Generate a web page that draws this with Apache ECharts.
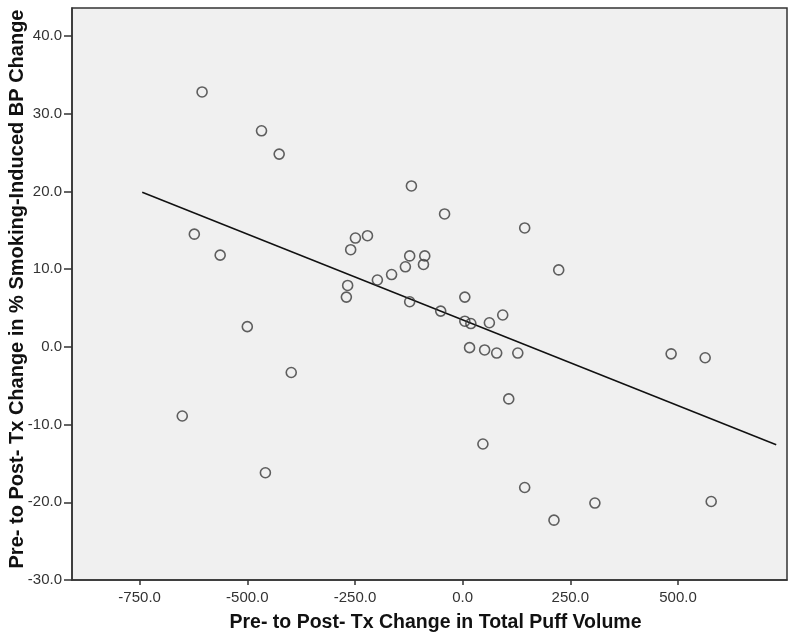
<!DOCTYPE html>
<html>
<head>
<meta charset="utf-8">
<script src="https://cdn.jsdelivr.net/npm/echarts@6/dist/echarts.min.js"></script>
<style>
html,body{margin:0;padding:0;background:#fff;}
#chart{width:800px;height:642px;}
</style>
</head>
<body>
<div id="chart"></div>
<script>
// Data
const puffVolumeChange = [
  -605, -467, -426, -623, -563, -500, -651, -398, -458,
  -249, -221, -260, -267, -270, -198, -165, -133, -123, -88, -91, -119, -42, -123, -51,
  5, 5, 19, 62, 93, 16, 51, 79, 128, 144, 223, 107, 47, 144, 212, 307, 484, 563, 577
];
const bpChange = [
  32.8, 27.8, 24.8, 14.5, 11.8, 2.6, -8.9, -3.3, -16.2,
  14.0, 14.3, 12.5, 7.9, 6.4, 8.6, 9.3, 10.3, 11.7, 11.7, 10.6, 20.7, 17.1, 5.8, 4.6,
  6.4, 3.3, 3.0, 3.1, 4.1, -0.1, -0.4, -0.8, -0.8, 15.3, 9.9, -6.7, -12.5, -18.1, -22.3, -20.1, -0.9, -1.4, -19.9
];
const fitLineX = [-744, 728];
const fitLineY = [19.9, -12.6];
const xTicks = [-750, -500, -250, 0, 250, 500];
const yTicks = [-30, -20, -10, 0, 10, 20, 30, 40];

const xTitle = 'Pre- to Post- Tx Change in Total Puff Volume';
const yTitle = 'Pre- to Post- Tx Change in % Smoking-Induced BP Change';

const points = puffVolumeChange.map((x, i) => [x, bpChange[i]]);
const fitPoints = fitLineX.map((x, i) => [x, fitLineY[i]]);

const chart = echarts.init(document.getElementById('chart'), null, {renderer: 'canvas'});
const fontFamily = '"Liberation Sans", Arial, sans-serif';
chart.setOption({
  animation: false,
  backgroundColor: '#ffffff',
  grid: {
    left: 72, top: 8, right: 13, bottom: 62,
    outerBoundsMode: 'none', containLabel: false,
    show: true, backgroundColor: '#f0f0f0', borderColor: '#333333', borderWidth: 1.5
  },
  xAxis: {
    type: 'value', min: -907, max: 753,
    name: xTitle, nameLocation: 'middle', nameGap: 33, nameMoveOverlap: false,
    nameTextStyle: {fontFamily, fontWeight: 'bold', fontSize: 19.5, color: '#111', padding: [0, 0, 0, 12]},
    splitLine: {show: false},
    axisLine: {show: true, onZero: false, lineStyle: {color: '#333', width: 1.5}},
    axisTick: {show: true, length: 5, customValues: xTicks, lineStyle: {color: '#333', width: 1.5}},
    axisLabel: {customValues: xTicks, margin: 10, fontFamily, fontSize: 15, color: '#333',
      formatter: v => v.toFixed(1)}
  },
  yAxis: {
    type: 'value', min: -30, max: 43.6,
    name: yTitle, nameLocation: 'middle', nameGap: 45, nameRotate: 90, nameMoveOverlap: false,
    nameTextStyle: {fontFamily, fontWeight: 'bold', fontSize: 20, color: '#111', padding: [0, 0, 0, 10]},
    splitLine: {show: false},
    axisLine: {show: true, onZero: false, lineStyle: {color: '#333', width: 1.5}},
    axisTick: {show: true, length: 8, customValues: yTicks, lineStyle: {color: '#333', width: 1.5}},
    axisLabel: {customValues: yTicks, margin: 10, fontFamily, fontSize: 15, color: '#333',
      formatter: v => v.toFixed(1)}
  },
  series: [
    {
      type: 'line', data: fitPoints, symbol: 'none', silent: true,
      lineStyle: {color: '#111', width: 1.5}, z: 1
    },
    {
      type: 'scatter', data: points, symbol: 'circle', symbolSize: 10,
      itemStyle: {color: 'rgba(0,0,0,0)', borderColor: '#3a3a3a', borderWidth: 1.6}, z: 2
    }
  ]
});
</script>
</body>
</html>
